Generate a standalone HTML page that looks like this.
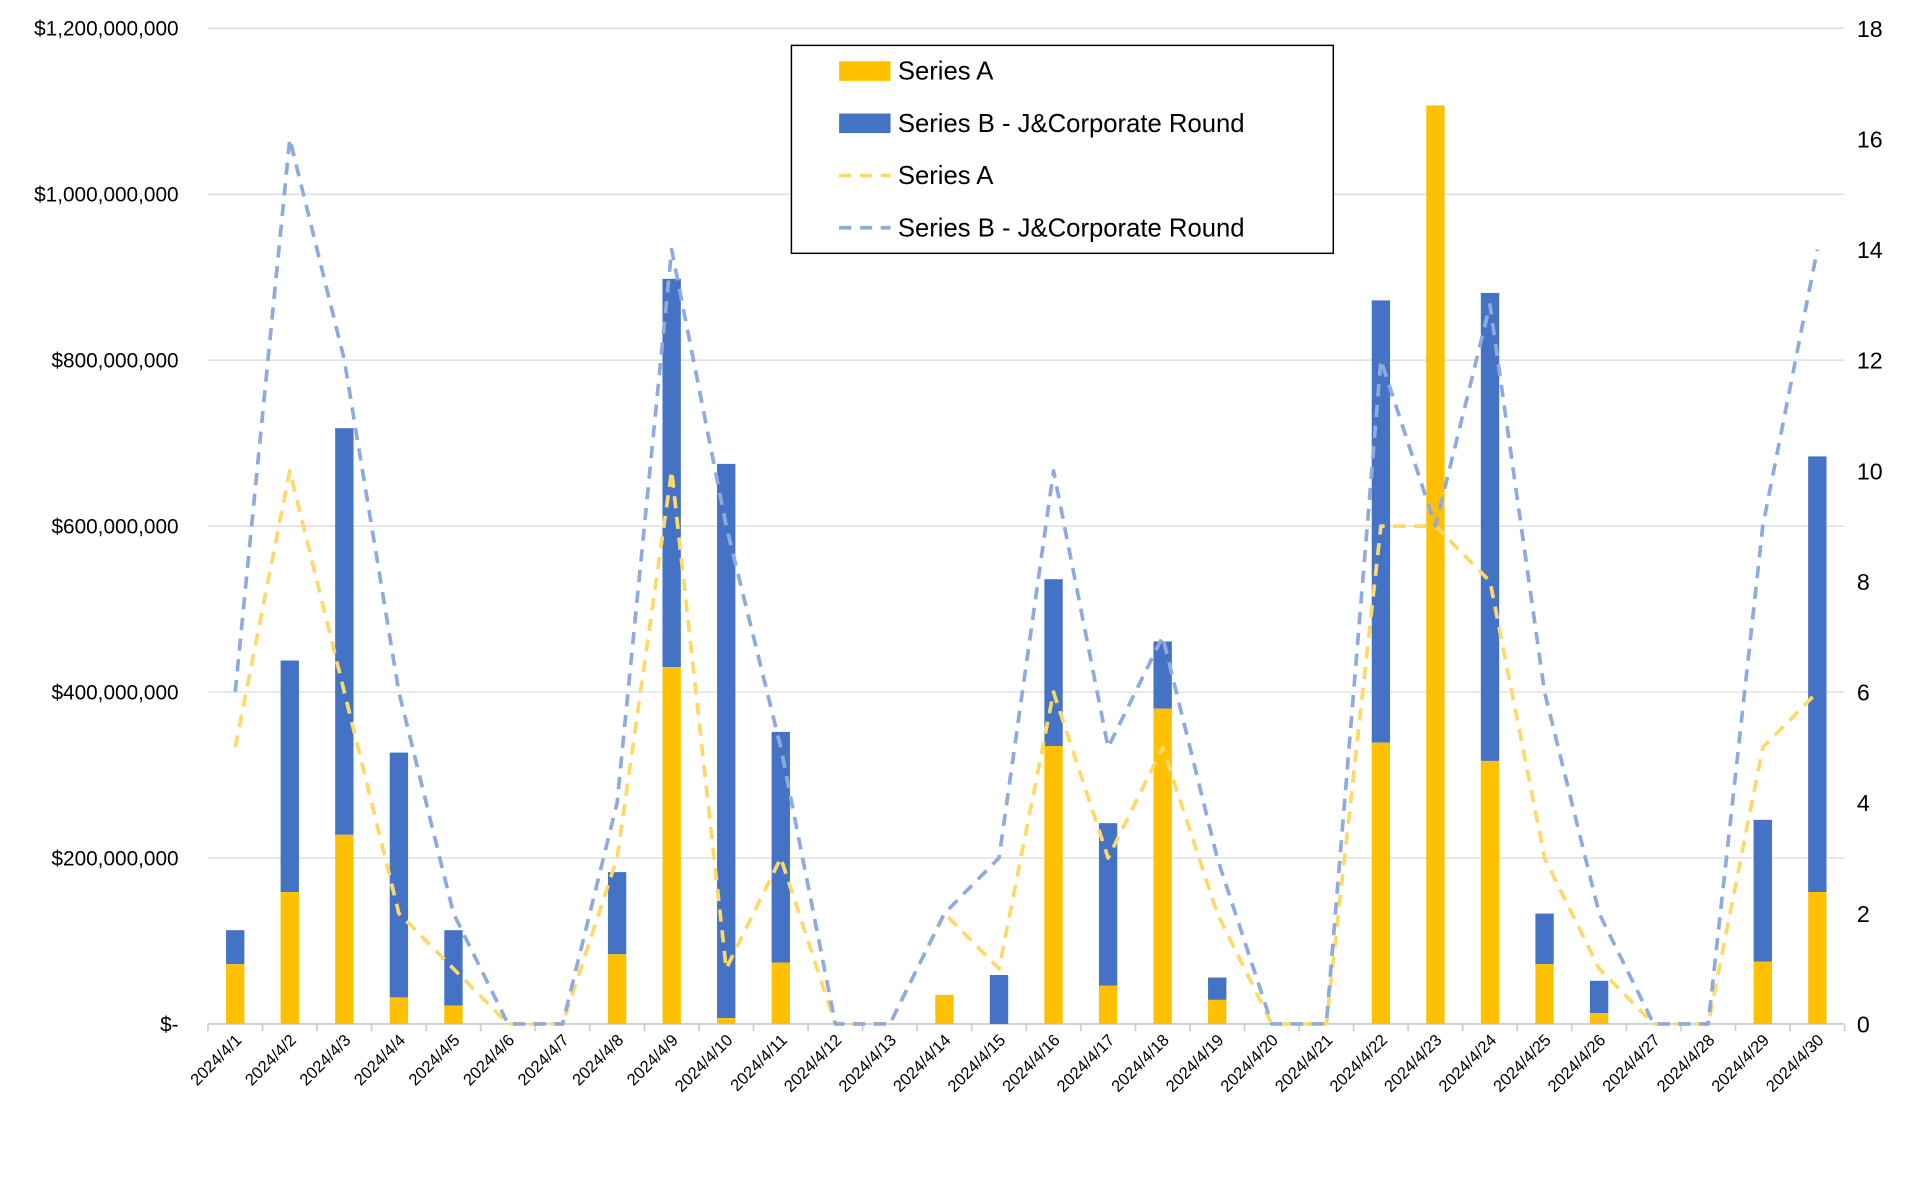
<!DOCTYPE html>
<html><head><meta charset="utf-8"><style>
html,body{margin:0;padding:0;background:#fff;}
svg{display:block;font-family:"Liberation Sans",Calibri,sans-serif;}
</style></head><body>
<svg id="s" width="1918" height="1199" viewBox="0 0 1568 980" xmlns="http://www.w3.org/2000/svg"></svg>
<script>
const s=document.getElementById('s');
let h='';
const L=170,R=1508,T=23,B=837;
const yM=v=>B-v/1200*(B-T);
const yC=v=>B-v/18*(B-T);
const cw=(R-L)/30;
const cx=i=>L+cw*(i+0.5);
const lbl=['$-','$200,000,000','$400,000,000','$600,000,000','$800,000,000','$1,000,000,000','$1,200,000,000'];
for(let k=0;k<=6;k++){const y=yM(k*200);
 h+=`<line x1="${L}" x2="${R}" y1="${y}" y2="${y}" stroke="${k==0?'#d0d0d0':'#d9d9d9'}" stroke-width="${k==0?1.5:1}"/>`;
 h+=`<text x="146" y="${y+6}" text-anchor="end" font-size="17" fill="#000">${lbl[k]}</text>`;}
for(let k=0;k<=18;k+=2){h+=`<text x="1518" y="${yC(k)+7}" font-size="19" fill="#000">${k}</text>`;}
for(let i=0;i<=30;i++){const x=L+cw*i;h+=`<line x1="${x}" x2="${x}" y1="${B}" y2="${B+6}" stroke="#d0d0d0" stroke-width="1.5"/>`;}
const A=[72,159,228,32,22,0,0,84,430,7,74,0,0,35,0,335,46,380,29,0,0,339,1107,317,72,13,0,0,75,159];
const T2=[113,438,718,327,113,0,0,183,898,675,352,0,0,35,59,536,242,461,56,0,0,872,1107,881,133,52,0,0,246,684];
const la=[5,10,6,2,1,0,0,3,10,1,3,0,0,2,1,6,3,5,2,0,0,9,9,8,3,1,0,0,5,6];
const lb=[6,16,12,6,2,0,0,4,14,9,5,0,0,2,3,10,5,7,3,0,0,12,9,13,6,2,0,0,9,14];
for(let i=0;i<30;i++){const x=cx(i)-7.5;
 if(T2[i]>A[i])h+=`<rect x="${x}" y="${yM(T2[i])}" width="15" height="${yM(A[i])-yM(T2[i])}" fill="#4472C4"/>`;
 if(A[i]>0)h+=`<rect x="${x}" y="${yM(A[i])}" width="15" height="${B-yM(A[i])}" fill="#FFC000"/>`;
 const d=i+1;h+=`<text transform="translate(${cx(i)+6},${B+14}) rotate(-45)" text-anchor="end" font-size="13.5" fill="#000">2024/4/${d}</text>`;}
function path(v){return 'M'+v.map((c,i)=>`${cx(i).toFixed(1)},${yC(c).toFixed(1)}`).join(' L');}
h+=`<path d="${path(la)}" fill="none" stroke="#FFD966" stroke-width="3" stroke-dasharray="10,7" stroke-linejoin="round"/>`;
h+=`<path d="${path(lb)}" fill="none" stroke="#8FAADC" stroke-width="3" stroke-dasharray="10,7" stroke-linejoin="round"/>`;
h+=`<rect x="647" y="37" width="443" height="170" fill="#fff" stroke="#000" stroke-width="1.2"/>`;
const le=[['Series A','#FFC000',0],['Series B - J&amp;Corporate Round','#4472C4',0],['Series A','#FFD966',1],['Series B - J&amp;Corporate Round','#8FAADC',1]];
le.forEach((e,k)=>{const y=58+k*42.7;
 if(e[2])h+=`<line x1="686" x2="728" y1="${y}" y2="${y}" stroke="${e[1]}" stroke-width="3" stroke-dasharray="10,7"/>`;
 else h+=`<rect x="686" y="${y-8}" width="42" height="16" fill="${e[1]}"/>`;
 h+=`<text x="734" y="${y+7}" font-size="21" fill="#000">${e[0]}</text>`;});
s.innerHTML=h;
</script>
</body></html>
